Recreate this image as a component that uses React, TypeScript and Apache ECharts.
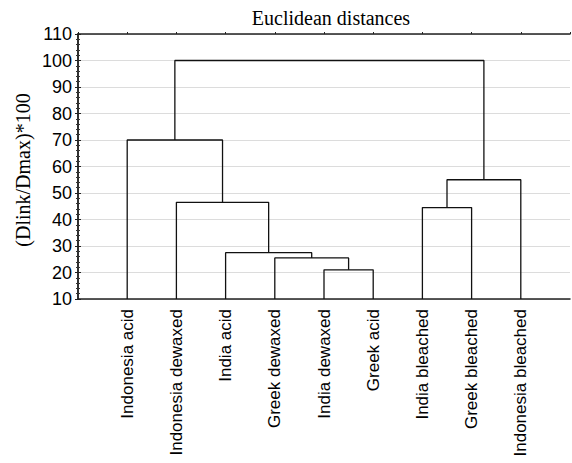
import React, { useEffect, useRef } from "react";
import * as echarts from "echarts";

// Leaves in dendrogram order (x positions 1..9)
const leafLabels = [
  "Indonesia acid",
  "Indonesia dewaxed",
  "India acid",
  "Greek dewaxed",
  "India dewaxed",
  "Greek acid",
  "India bleached",
  "Greek bleached",
  "Indonesia bleached",
];

// Merges: node indices (0..8 leaves, 9.. merged clusters in order)
const mergeLeft = [4, 3, 2, 1, 0, 6, 14, 13];
const mergeRight = [5, 9, 10, 11, 12, 7, 8, 15];
const mergeHeights = [21, 25.5, 27.5, 46.5, 70, 44.5, 55, 100];

const yTicks = [10, 20, 30, 40, 50, 60, 70, 80, 90, 100, 110];

const title = "Euclidean distances";
const yName = "(Dlink/Dmax)*100";

export default function App() {
  const ref = useRef<HTMLDivElement>(null);

  useEffect(() => {
    if (!ref.current) return;
    const chart = echarts.init(ref.current, undefined, { renderer: "svg" });

    const yMin = yTicks[0];
    const yMax = yTicks[yTicks.length - 1];
    const nodeX: number[] = leafLabels.map((_, i) => i + 1);
    const nodeH: number[] = leafLabels.map(() => yMin);
    const series: any[] = [];
    mergeLeft.forEach((l, k) => {
      const r = mergeRight[k];
      const h = mergeHeights[k];
      const xl = nodeX[l];
      const xr = nodeX[r];
      series.push({
        type: "line",
        data: [
          [xl, nodeH[l]],
          [xl, h],
          [xr, h],
          [xr, nodeH[r]],
        ],
        showSymbol: false,
        symbol: "none",
        silent: true,
        lineStyle: { color: "#111", width: 1.3 },
        xAxisIndex: 0,
        yAxisIndex: 0,
      });
      nodeX.push((xl + xr) / 2);
      nodeH.push(h);
    });

    const sans = "'Liberation Sans', Arial, sans-serif";
    const serif = "'Liberation Serif', 'Times New Roman', serif";

    chart.setOption({
      animation: false,
      grid: {
        left: 78,
        right: 2,
        top: 34,
        bottom: 164,
        containLabel: false,
        outerBoundsMode: "none",
      },
      graphic: [
        {
          type: "text",
          x: 331,
          y: 18,
          style: {
            text: title,
            font: `20px ${serif}`,
            fill: "#000",
            align: "center",
            verticalAlign: "middle",
          },
        },
        {
          type: "text",
          x: 23,
          y: 170,
          rotation: Math.PI / 2,
          style: {
            text: yName,
            font: `20px ${serif}`,
            fill: "#000",
            align: "center",
            verticalAlign: "middle",
          },
        },
      ],
      xAxis: [
        {
          type: "value",
          min: 0,
          max: leafLabels.length + 1,
          interval: 1,
          position: "bottom",
          splitLine: { show: false },
          axisLine: { show: true, lineStyle: { color: "#222", width: 1.5 } },
          axisTick: { show: false },
          axisLabel: {
            rotate: 90,
            margin: 10,
            fontFamily: sans,
            fontSize: 17,
            color: "#000",
            formatter: (v: number) => leafLabels[v - 1] ?? "",
          },
        },
        {
          type: "value",
          min: 0,
          max: leafLabels.length + 1,
          interval: 1,
          position: "top",
          splitLine: { show: false },
          axisLine: { show: true, lineStyle: { color: "#222", width: 1.5 } },
          axisTick: { show: true, inside: false, length: 2, lineStyle: { color: "#222" } },
          axisLabel: { show: false },
        },
      ],
      yAxis: [
        {
          type: "value",
          min: yMin,
          max: yMax,
          interval: 10,
          position: "left",
          axisLine: { show: true, lineStyle: { color: "#222", width: 1.5 } },
          axisTick: { show: true, inside: true, length: 3, lineStyle: { color: "#222" } },
          minorTick: { show: true, splitNumber: 5, length: 2, lineStyle: { color: "#333" } },
          splitLine: { show: true, lineStyle: { color: "#dcdcdc", width: 1 } },
          axisLabel: {
            margin: 6,
            fontFamily: sans,
            fontSize: 18,
            color: "#000",
          },
        },
        {
          type: "value",
          min: yMin,
          max: yMax,
          interval: 10,
          position: "right",
          axisLine: { show: true, lineStyle: { color: "#222", width: 1.5 } },
          axisTick: { show: true, inside: true, length: 3, lineStyle: { color: "#222" } },
          minorTick: { show: true, splitNumber: 5, length: 2, lineStyle: { color: "#333" } },
          splitLine: { show: false },
          axisLabel: { show: false },
        },
      ],
      series,
    });

    return () => chart.dispose();
  }, []);

  return (
    <div
      ref={ref}
      style={{ position: "fixed", left: 0, top: 0, width: 572, height: 463, background: "#fff" }}
    />
  );
}
